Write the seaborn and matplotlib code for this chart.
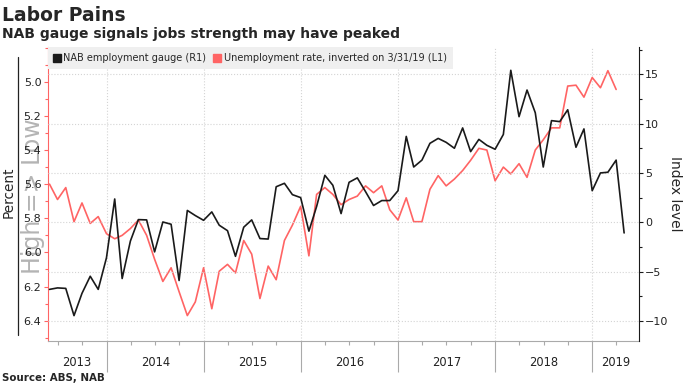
import pandas as pd
import numpy as np
import matplotlib
matplotlib.use('Agg')
import matplotlib.pyplot as plt
import matplotlib.dates as mdates
from matplotlib.lines import Line2D
from matplotlib.ticker import MultipleLocator, FixedLocator, FormatStrFormatter, NullFormatter
import seaborn as sns

# NAB employment gauge (index, right axis), monthly May 2013 - Apr 2019
nab_gauge = [-6.8, -6.65, -6.7, -9.46, -7.2, -5.47, -6.8, -3.6, 2.36, -5.7, -1.9, 0.27, 0.24,
             -3.0, 0.03, -0.2, -5.9, 1.2, 0.68, 0.2, 1.05, -0.3, -0.85, -3.45,
             -0.5, 0.24, -1.65, -1.7, 3.6, 3.95, 2.8, 2.5, -0.9, 1.6, 4.76, 3.75, 0.88,
             4.05, 4.5, 3.1, 1.7, 2.2, 2.2, 3.2, 8.7, 5.6, 6.3, 8.0, 8.5, 8.1,
             7.5, 9.56, 7.16, 8.4, 7.8, 7.4, 8.9, 15.4, 10.7, 13.4, 11.1, 5.6,
             10.3, 10.2, 11.4, 7.6, 9.46, 3.2, 5.0, 5.07, 6.3, -1.08]

# unemployment rate (percent, left axis inverted), monthly May 2013 - Mar 2019
unemployment = [5.60, 5.69, 5.62, 5.82, 5.71, 5.83, 5.79, 5.89, 5.92, 5.90, 5.86, 5.81, 5.90,
                6.04, 6.17, 6.09, 6.23, 6.37, 6.29, 6.09, 6.33, 6.11, 6.07, 6.12, 5.93,
                6.01, 6.27, 6.08, 6.16, 5.93, 5.84, 5.73, 6.02, 5.66, 5.62, 5.66, 5.72, 5.69,
                5.67, 5.61, 5.65, 5.61, 5.75, 5.81, 5.68, 5.82, 5.82, 5.63, 5.55, 5.61,
                5.57, 5.52, 5.46, 5.39, 5.40, 5.58, 5.50, 5.54, 5.48, 5.56, 5.40, 5.34,
                5.27, 5.27, 5.025, 5.02, 5.09, 4.975, 5.035, 4.935, 5.045]

nab_dates = pd.date_range('2013-06-01', periods=len(nab_gauge), freq='MS') - pd.Timedelta(days=1)
unemp_dates = pd.date_range('2013-06-01', periods=len(unemployment), freq='MS') - pd.Timedelta(days=1)
years = [2013, 2014, 2015, 2016, 2017, 2018, 2019]
pct_ticks = [5.0, 5.2, 5.4, 5.6, 5.8, 6.0, 6.2, 6.4]

red = '#ff6464'
dark = '#1a1a1a'

sns.set_style('white')
fig = plt.figure(figsize=(6.83, 3.84), dpi=100)
ax = fig.add_axes([0.0698, 0.112, 0.8658, 0.7648])

sns.lineplot(x=unemp_dates, y=unemployment, ax=ax, color=red, linewidth=1.2)
x0, x1 = pd.Timestamp('2013-05-24'), pd.Timestamp('2019-06-25')
ax.set_xlim(x0, x1)
ax.set_ylim(6.519, 4.798)
ax.yaxis.set_major_locator(FixedLocator(pct_ticks))
ax.yaxis.set_minor_locator(MultipleLocator(0.1))
ax.yaxis.set_major_formatter(FormatStrFormatter('%.1f'))
ax.tick_params(axis='y', which='both', left=True, colors=red, labelcolor='#222222',
               labelsize=8, direction='out', width=0.8, pad=1.5)
ax.tick_params(axis='y', which='major', length=3)
ax.tick_params(axis='y', which='minor', length=2)
ax.xaxis.set_major_locator(mdates.YearLocator())
ax.xaxis.set_major_formatter(NullFormatter())
ax.xaxis.set_minor_locator(mdates.MonthLocator(bymonth=[4, 7, 10]))
ax.xaxis.set_minor_formatter(NullFormatter())
ax.tick_params(axis='x', which='major', bottom=True, length=22, color='#aaaaaa', width=0.8)
ax.tick_params(axis='x', which='minor', bottom=True, length=3, color='#aaaaaa', width=0.8)
ax.grid(axis='x', which='major', color='#d4d4d4', linestyle=':', linewidth=0.8)
ax.set_axisbelow(True)
ax.spines['left'].set_color(red)
ax.spines['bottom'].set_color('#aaaaaa')
ax.spines['top'].set_visible(False)
ax.spines['right'].set_visible(False)
ax.set_xlabel('')
ax.set_ylabel('')

ax2 = ax.twinx()
sns.lineplot(x=nab_dates, y=nab_gauge, ax=ax2, color=dark, linewidth=1.2)
ax2.set_ylim(-12.03, 17.73)
ax2.yaxis.set_major_locator(MultipleLocator(5))
ax2.yaxis.set_minor_locator(MultipleLocator(2.5))
ax2.tick_params(axis='y', which='both', right=True, colors=dark, labelcolor='#222222',
                labelsize=8, direction='out', width=0.8, pad=1.5)
ax2.tick_params(axis='y', which='major', length=3)
ax2.tick_params(axis='y', which='minor', length=2)
ax2.grid(axis='y', which='major', color='#d4d4d4', linestyle=':', linewidth=0.8)
for s in ['left', 'top', 'bottom']:
    ax2.spines[s].set_visible(False)
ax2.spines['right'].set_color(dark)
ax2.set_ylabel('')

handles = [Line2D([], [], marker='s', ls='none', color=dark, markersize=5.5),
           Line2D([], [], marker='s', ls='none', color=red, markersize=5.5)]
labels = ['NAB employment gauge (R1)', 'Unemployment rate, inverted on 3/31/19 (L1)']
ax2.legend(handles, labels, loc='upper left', bbox_to_anchor=(0, 1), ncol=2, frameon=True,
           fancybox=False, facecolor='#efefef', edgecolor='none', framealpha=1, fontsize=7.0,
           borderaxespad=0, handlelength=0.7, handletextpad=0.3, columnspacing=0.8, borderpad=0.6)

# year labels centred in each visible year span
for y in years:
    start = max(pd.Timestamp(y, 1, 1), x0)
    end = min(pd.Timestamp(y + 1, 1, 1), x1)
    mid = start + (end - start) / 2
    ax.text(mid, -0.072, str(y), transform=ax.get_xaxis_transform(), ha='center', va='center',
            fontsize=8.3, color='#222222')

fig.text(0.003, 1 - 21 / 384, 'Labor Pains', fontsize=13.5, fontweight='bold', va='baseline')
fig.text(0.003, 1 - 38 / 384, 'NAB gauge signals jobs strength may have peaked', fontsize=10,
         fontweight='bold', va='baseline')
fig.text(0.003, 1 - 381 / 384, 'Source: ABS, NAB', fontsize=7.4, fontweight='bold', va='baseline')
fig.text(0.012, 0.5, 'Percent', rotation=90, ha='center', va='center', fontsize=9.8)
fig.text(0.988, 0.495, 'Index level', rotation=270, ha='center', va='center', fontsize=10)
fig.text(0.048, 0.49, 'High => Low', rotation=90, ha='center', va='center', fontsize=17,
         color='#b4b4b4', zorder=-1)
fig.add_artist(Line2D([0.0268, 0.0268], [0.128, 0.852], color='#222222', lw=0.9,
                      transform=fig.transFigure))

fig.savefig('out.png', dpi=100)
